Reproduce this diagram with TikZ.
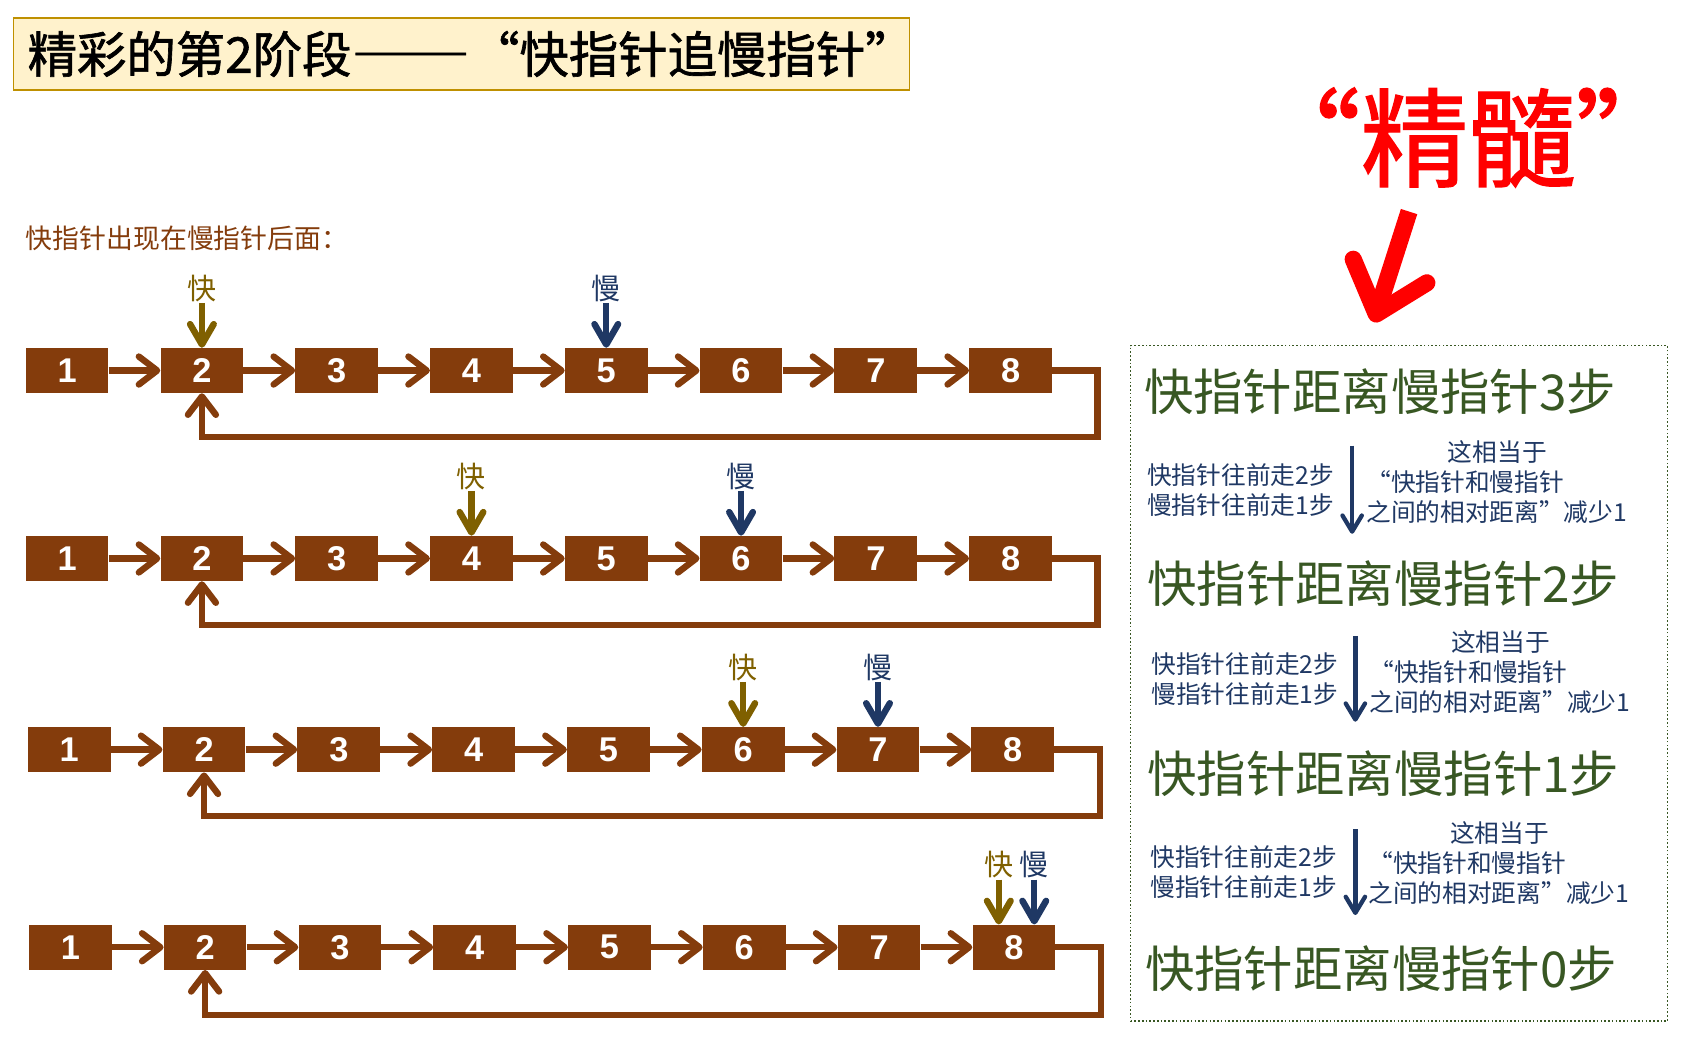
\documentclass[tikz,border=0pt]{standalone}
\usepackage{fontspec}
\setmainfont{Liberation Sans}
\newfontfamily\cjk{Noto Sans CJK SC}
\newfontfamily\cjkfw[CharacterWidth=Full]{Noto Sans CJK SC}
\newfontfamily\cjkt[FakeBold=1.3]{Noto Sans CJK SC}
\newfontfamily\cjktfw[FakeBold=1.3,CharacterWidth=Full]{Noto Sans CJK SC}
\usetikzlibrary{arrows.meta}
\definecolor{brn}{HTML}{843C0C}
\definecolor{olv}{HTML}{7F6000}
\definecolor{nvy}{HTML}{1F3864}
\definecolor{grn}{HTML}{385723}
\definecolor{tfill}{HTML}{FFF2CC}
\definecolor{tline}{HTML}{BF9000}
\newcommand\myfs[2]{\fontsize{#1}{#2}\selectfont}
\newcommand\fwlq{{\cjkfw “}}
\newcommand\fwrq{{\cjkfw ”}}
\begin{document}
\begin{tikzpicture}[x=1pt,y=-1pt,
  nbox/.style={fill=brn, minimum width=77pt, minimum height=42pt, inner sep=0pt, text=white, font=\myfs{32}{32}\bfseries},
  link/.style={draw=brn, line width=6pt, -{Straight Barb[length=17pt,width=26pt,line width=6pt,round]}},
  backline/.style={draw=brn, line width=6pt, line join=miter, -{Straight Barb[length=17pt,width=26pt,line width=6pt,round]}},
  ptrarrow/.style={line width=6pt, -{Straight Barb[length=19pt,width=22pt,line width=6pt,round]}},
  plab/.style={font=\cjk\myfs{27}{27}, inner sep=1pt, anchor=south},
  big/.style={font=\cjk\myfs{46}{46}, text=grn, inner sep=0pt, anchor=west},
  sm/.style={font=\cjk\myfs{23}{28}, text=nvy, inner sep=0pt, align=left, anchor=west},
  vdown/.style={draw=nvy, line width=4pt, -{Straight Barb[length=15pt,width=18pt,line width=4pt,round]}}
]
\useasboundingbox (0,0) rectangle (1568,976);

% title
\node[draw=tline, fill=tfill, line width=1.5pt, anchor=north west, minimum width=834pt, minimum height=67pt,
      text width=808pt, inner xsep=13pt, align=left, font=\cjkt\myfs{46}{46}] (title) at (12,16)
      {精彩的第2阶段{\cjktfw \scalebox{1.2}[1]{——}“}快指针追慢指针{\cjktfw ”}};

% essence
\node[font=\cjkt\myfs{100}{100}, text=red, inner sep=0pt] (essence) at (1367,128) {“精髓”};
\coordinate (redtail) at (1312,197);
\coordinate (redtip) at (1279,300);
\draw[red, line width=16pt, -{Straight Barb[length=42pt,width=72pt,line width=16pt,round]}] (redtail) -- (redtip);

% subtitle
\node[font=\cjk\myfs{25}{25}, text=brn, anchor=west, inner sep=0pt] (sub) at (24,222) {快指针出现在慢指针后面：};

% rows
\foreach \r/\y/\ox/\lx/\ly in {1/345/24/1022/407, 2/520/24/1022/582, 3/698/26/1024/760, 4/882/27/1025/945}{
  \foreach \i in {1,...,8}{
    \node[nbox] (r\r-\i) at ({\ox+38.5+(\i-1)*125.5},\y) {\i};
  }
  \foreach \i [evaluate=\i as \j using int(\i+1)] in {1,...,7}{
    \draw[link] (r\r-\i.east) -- (r\r-\j.west);
  }
  \coordinate (c\r) at (\lx,\ly);
  \draw[backline] (r\r-8.east) -| (c\r) -| (r\r-2.south);
}

% pointers
\node[plab, text=olv] (f1) at (r1-2.north |- 0,282) {快};
\draw[ptrarrow, olv] (f1.south) -- (f1.south |- r1-2.north);
\node[plab, text=nvy] (s1) at (r1-5.north |- 0,282) {慢};
\draw[ptrarrow, nvy] (s1.south) -- (s1.south |- r1-5.north);

\node[plab, text=olv] (f2) at (r2-4.north |- 0,457) {快};
\draw[ptrarrow, olv] (f2.south) -- (f2.south |- r2-4.north);
\node[plab, text=nvy] (s2) at (r2-6.north |- 0,457) {慢};
\draw[ptrarrow, nvy] (s2.south) -- (s2.south |- r2-6.north);

\node[plab, text=olv] (f3) at (r3-6.north |- 0,635) {快};
\draw[ptrarrow, olv] (f3.south) -- (f3.south |- r3-6.north);
\node[plab, text=nvy] (s3) at (r3-7.north |- 0,635) {慢};
\draw[ptrarrow, nvy] (s3.south) -- (s3.south |- r3-7.north);

\node[plab, text=olv] (f4) at (930,819) {快};
\draw[ptrarrow, olv] (f4.south) -- (f4.south |- r4-8.north);
\node[plab, text=nvy] (s4) at (963,819) {慢};
\draw[ptrarrow, nvy] (s4.south) -- (s4.south |- r4-8.north);

% right panel
\node[draw=grn, line width=1.5pt, dash pattern=on 1.5pt off 2pt, anchor=north west,
      minimum width=500pt, minimum height=629pt, inner sep=0pt] (panel) at (1052,321) {};

\node[big] (d3) at (1065,365) {快指针距离慢指针3步};
\node[big] (d2) at (1068,543) {快指针距离慢指针2步};
\node[big] (d1) at (1068,720) {快指针距离慢指针1步};
\node[big] (d0) at (1066,902) {快指针距离慢指针0步};

\node[sm] (m1a) at (1068,456) {快指针往前走2步\\慢指针往前走1步};
\node[sm] (m1b) at (1272,449) {\hspace*{76pt}这相当于\\\fwlq 快指针和慢指针\\之间的相对距离\fwrq 减少1};
\coordinate (a1s) at (1259,415);
\coordinate (a1e) at (1259,497);
\draw[vdown] (a1s) -- (a1e);

\node[sm] (m2a) at (1072,632) {快指针往前走2步\\慢指针往前走1步};
\node[sm] (m2b) at (1275,626) {\hspace*{76pt}这相当于\\\fwlq 快指针和慢指针\\之间的相对距离\fwrq 减少1};
\coordinate (a2s) at (1262,592);
\coordinate (a2e) at (1262,672);
\draw[vdown] (a2s) -- (a2e);

\node[sm] (m3a) at (1071,812) {快指针往前走2步\\慢指针往前走1步};
\node[sm] (m3b) at (1274,804) {\hspace*{76pt}这相当于\\\fwlq 快指针和慢指针\\之间的相对距离\fwrq 减少1};
\coordinate (a3s) at (1262,772);
\coordinate (a3e) at (1262,852);
\draw[vdown] (a3s) -- (a3e);
\end{tikzpicture}
\end{document}
